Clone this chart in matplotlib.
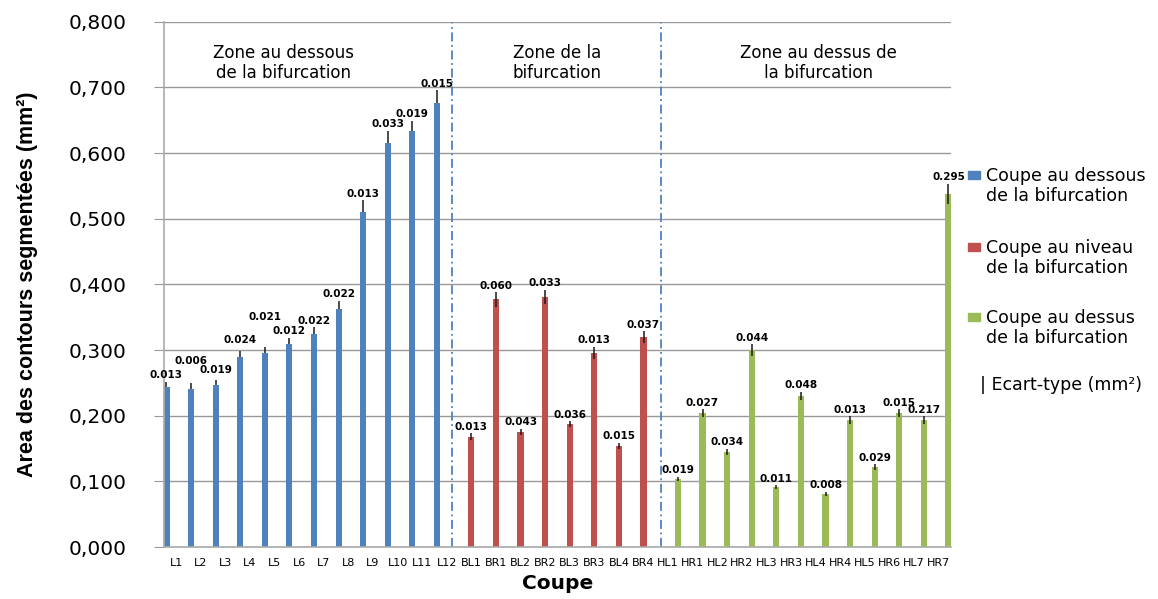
import numpy as np
from matplotlib import pyplot as plt
from matplotlib.patches import Rectangle
from matplotlib.ticker import FuncFormatter

# data
cats_low = ['L1', 'L2', 'L3', 'L4', 'L5', 'L6', 'L7', 'L8', 'L9', 'L10', 'L11', 'L12']
cats_mid = ['BL1', 'BR1', 'BL2', 'BR2', 'BL3', 'BR3', 'BL4', 'BR4']
cats_high = ['HL1', 'HR1', 'HL2', 'HR2', 'HL3', 'HR3', 'HL4', 'HR4', 'HL5', 'HR6', 'HL7', 'HR7']

vals_low = [0.243, 0.241, 0.247, 0.290, 0.295, 0.309, 0.324, 0.363, 0.510, 0.615, 0.634, 0.676]
vals_mid = [0.168, 0.377, 0.175, 0.381, 0.187, 0.296, 0.154, 0.320]
vals_high = [0.104, 0.204, 0.145, 0.300, 0.091, 0.230, 0.081, 0.193, 0.122, 0.204, 0.193, 0.538]

# drawn error bar half-lengths
err_low = [0.009, 0.009, 0.008, 0.009, 0.009, 0.010, 0.011, 0.012, 0.018, 0.019, 0.015, 0.020]
err_mid = [0.005, 0.011, 0.005, 0.011, 0.005, 0.009, 0.005, 0.009]
err_high = [0.003, 0.006, 0.0045, 0.009, 0.003, 0.0065, 0.003, 0.006, 0.0045, 0.006, 0.006, 0.015]

# printed standard deviations
sd_low = ['0.013', '0.006', '0.019', '0.024', '0.021', '0.012', '0.022', '0.022', '0.013', '0.033', '0.019', '0.015']
sd_mid = ['0.013', '0.060', '0.043', '0.033', '0.036', '0.013', '0.015', '0.037']
sd_high = ['0.019', '0.027', '0.034', '0.044', '0.011', '0.048', '0.008', '0.013', '0.029', '0.015', '0.217', '0.295']

legend_labels = ['Coupe au dessous\nde la bifurcation',
                 'Coupe au niveau\nde la bifurcation',
                 'Coupe au dessus\nde la bifurcation']
zone_labels = ['Zone au dessous\nde la bifurcation', 'Zone de la\nbifurcation',
               'Zone au dessus de\nla bifurcation']
colors = ['#4F81BD', '#C0504D', '#9BBB59']

categories = cats_low + cats_mid + cats_high
groups = [(vals_low, err_low, sd_low), (vals_mid, err_mid, sd_mid), (vals_high, err_high, sd_high)]

# extra lift (points) for labels that would collide
label_lift = {'L2': 11, 'L3': 2, 'L4': 3, 'L5': 17}

fig = plt.figure(figsize=(11.58, 5.99), dpi=100)
ax = fig.add_axes([0.1416, 0.0868, 0.6796, 0.877])

start = 0
offsets = [-0.4, 0.0, 0.4]
for g, (vals, errs, sds) in enumerate(groups):
    idx = np.arange(start, start + len(vals))
    x = idx + offsets[g]
    ax.bar(x, vals, width=0.25, color=colors[g], zorder=2)
    ax.errorbar(x, vals, yerr=errs, fmt='none', ecolor='#1a1a1a', elinewidth=1.1,
                capsize=0, zorder=1 if g == 0 else 3)
    for i, xi, v, e, s in zip(idx, x, vals, errs, sds):
        lift = label_lift.get(categories[i], 0)
        ax.annotate(s, (xi, v + e), xytext=(0, 1 + lift), textcoords='offset points',
                    ha='center', va='bottom', fontsize=7.5, fontweight='bold', zorder=4)
    start += len(vals)

# zone separators and titles
for xs in [11.21, 19.7]:
    ax.axvline(xs, color='#4F81BD', lw=1.3, ls=(0, (5, 2, 1, 2)), zorder=1)
for xz, txt in zip([4.34, 15.48, 26.13], zone_labels):
    ax.text(xz, 0.737, txt, ha='center', va='center', fontsize=12, linespacing=1.2)

ax.set_xlim(-0.5, len(categories) - 0.5)
ax.set_ylim(0, 0.8)
ax.set_xticks(np.arange(len(categories)))
ax.set_xticklabels(categories, fontsize=8)
ax.tick_params(axis='x', length=0, pad=8)
ax.set_yticks(np.arange(0, 0.81, 0.1))
ax.yaxis.set_major_formatter(FuncFormatter(lambda v, p: f'{v:.3f}'.replace('.', ',')))
ax.tick_params(axis='y', labelsize=14.5, length=7, color='#999999', pad=20)
ax.grid(axis='y', color='#999999', lw=1)
ax.set_axisbelow(True)
for side in ['top', 'right']:
    ax.spines[side].set_visible(False)
for side in ['left', 'bottom']:
    ax.spines[side].set_color('#aaaaaa')
    ax.spines[side].set_linewidth(1.2)

ax.set_xlabel('Coupe', fontsize=14.5, fontweight='bold', labelpad=4)
fig.text(0.024, 0.526, 'Area des contours segmentées (mm²)', rotation=90,
         ha='center', va='center', fontsize=15.5, fontweight='bold',
         family=['Liberation Sans', 'DejaVu Sans'])

# legend drawn by hand
W, H = 1158, 599
leg_y = [175, 247, 317]
for c, lab, y in zip(colors, legend_labels, leg_y):
    fig.add_artist(Rectangle((968 / W, 1 - (y + 4) / H), 12 / W, 8 / H,
                             color=c, transform=fig.transFigure))
    fig.text(986 / W, 1 - (y - 8) / H, lab, ha='left', va='top', fontsize=12.5, linespacing=1.15)
fig.text(980 / W, 1 - 385 / H, '| Ecart-type (mm²)', ha='left', va='center', fontsize=12.5)

plt.savefig('out.png', dpi=100)
